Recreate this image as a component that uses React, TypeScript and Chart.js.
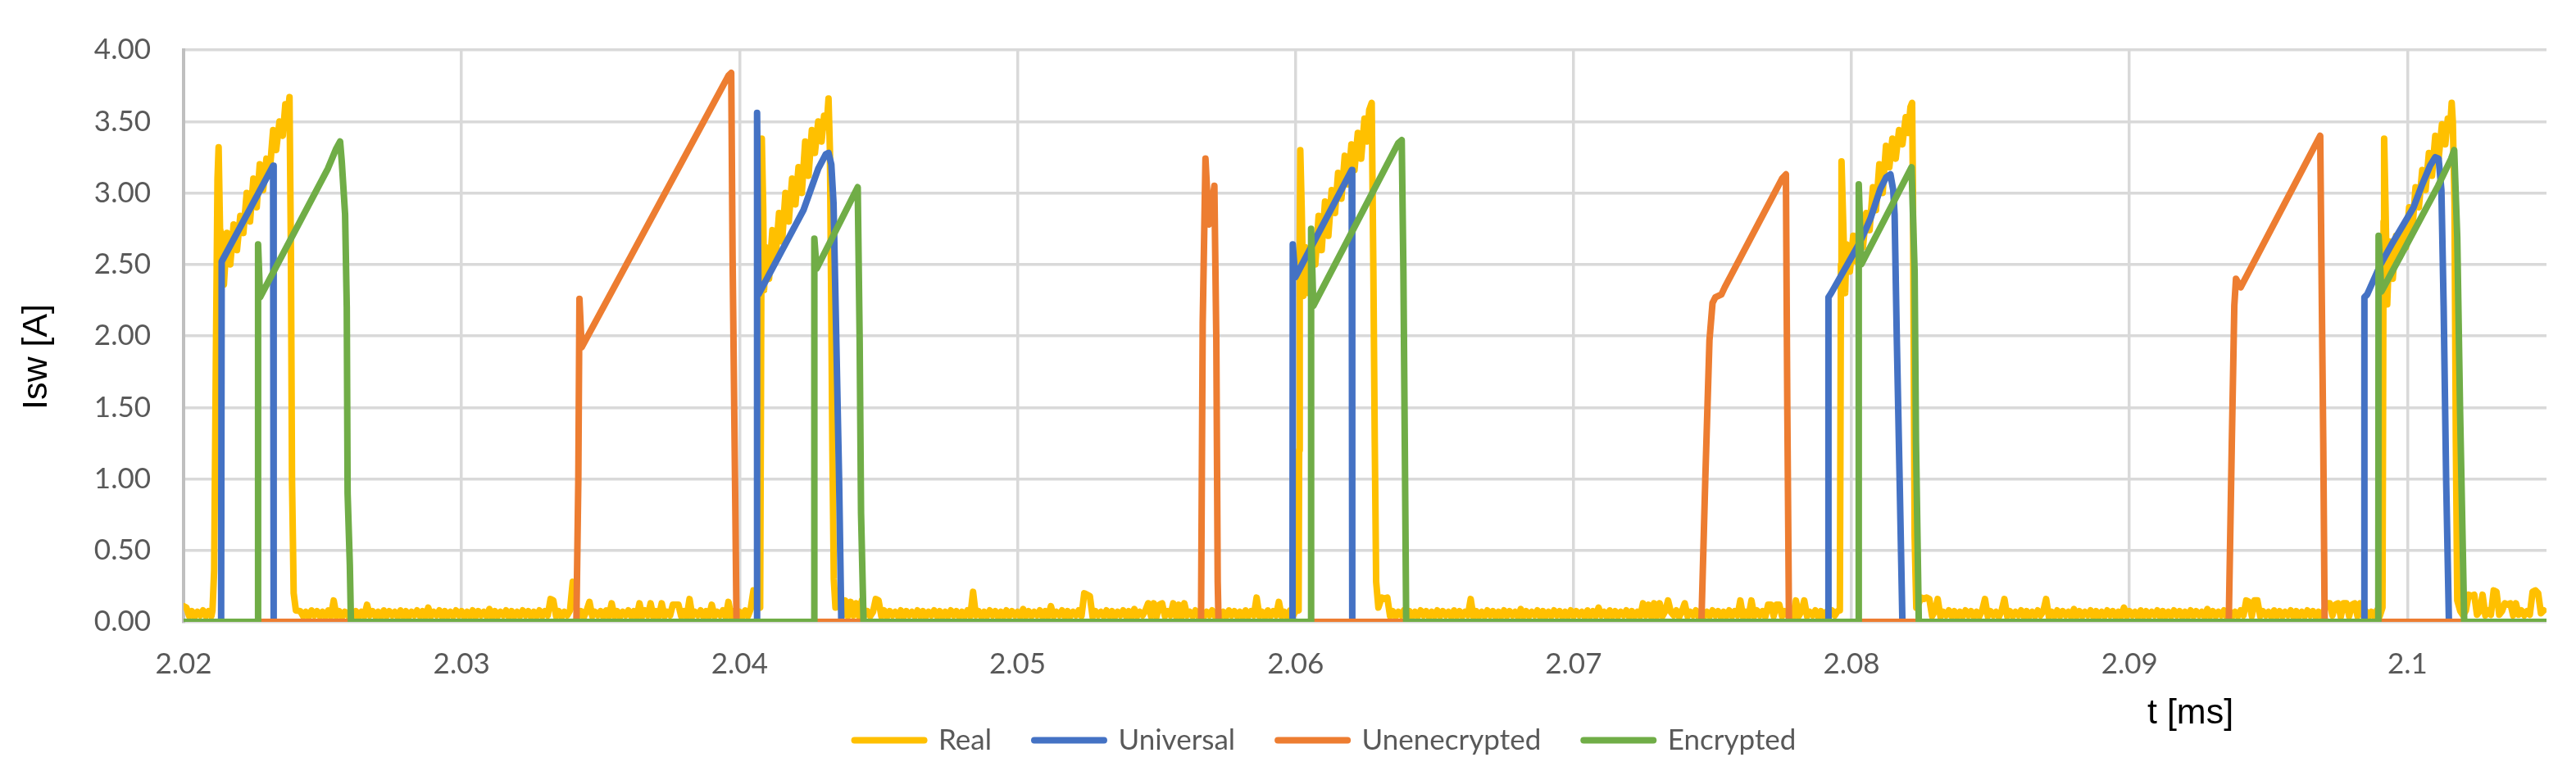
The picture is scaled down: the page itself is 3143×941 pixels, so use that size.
import React, { useEffect, useRef } from 'react';
import { Chart, registerables } from 'chart.js';

Chart.register(...registerables);

type Pt = [number, number];

// ---------- labels / ticks ----------
const SERIES_NAMES = ['Real', 'Universal', 'Unenecrypted', 'Encrypted'];
const SERIES_COLORS = ['#FFC000', '#4472C4', '#ED7D31', '#70AD47'];
const X_TICKS = [2.02, 2.03, 2.04, 2.05, 2.06, 2.07, 2.08, 2.09, 2.1];
const Y_TICKS = [0, 0.5, 1, 1.5, 2, 2.5, 3, 3.5, 4];
const X_MIN = 2.02;
const X_MAX = 2.105;
const Y_MIN = 0;
const Y_MAX = 4;
const X_TITLE = 't [ms]';
const Y_TITLE = 'Isw [A]';

// ---------- Real (measured) : baseline noise segments, sampled every 0.0001 ms ----------
const REAL_NOISE_STEP = 0.0001;
const realNoiseStarts = [2.02, 2.0242, 2.0436, 2.0631, 2.0824, 2.1019];
const realNoise0 = [0.11, 0.10, 0.04, 0.075, 0.035, 0.07, 0.045, 0.08, 0.04, 0.075, 0.04];
const realNoise1 = [
  0.075, 0.04, 0.07, 0.035, 0.08, 0.045, 0.075, 0.04, 0.07, 0.035, 0.08, 0.04, 0.15, 0.04, 0.075, 0.035, 0.07, 0.045, 0.08, 0.04,
  0.075, 0.035, 0.07, 0.04, 0.12, 0.045, 0.075, 0.04, 0.07, 0.035, 0.08, 0.04, 0.075, 0.045, 0.07, 0.035, 0.08, 0.04, 0.075, 0.035,
  0.07, 0.045, 0.08, 0.04, 0.075, 0.035, 0.10, 0.04, 0.07, 0.045, 0.08, 0.035, 0.075, 0.04, 0.07, 0.04, 0.08, 0.045, 0.075, 0.035,
  0.07, 0.04, 0.08, 0.035, 0.075, 0.045, 0.07, 0.04, 0.09, 0.035, 0.075, 0.04, 0.07, 0.045, 0.08, 0.035, 0.075, 0.04, 0.07, 0.04,
  0.08, 0.045, 0.075, 0.035, 0.07, 0.04, 0.08, 0.04, 0.075, 0.045, 0.16, 0.15, 0.04, 0.075, 0.035, 0.07, 0.045, 0.08, 0.28, 0.12,
  0.04, 0.075, 0.035, 0.08, 0.14, 0.04, 0.07, 0.045, 0.075, 0.035, 0.08, 0.04, 0.13, 0.04, 0.075, 0.035, 0.07, 0.045, 0.08, 0.04,
  0.075, 0.035, 0.13, 0.04, 0.08, 0.045, 0.13, 0.035, 0.075, 0.04, 0.13, 0.04, 0.07, 0.045, 0.12, 0.12, 0.12, 0.04, 0.075, 0.035,
  0.16, 0.04, 0.07, 0.045, 0.08, 0.035, 0.075, 0.04, 0.12, 0.04, 0.07, 0.045, 0.08, 0.035, 0.14, 0.04, 0.075, 0.045, 0.07, 0.035,
  0.08, 0.04, 0.09, 0.22, 0.20,
];
const realNoise2 = [
  0.14, 0.045, 0.15, 0.04, 0.14, 0.045, 0.13, 0.04, 0.15, 0.045, 0.075, 0.04, 0.07, 0.16, 0.15, 0.04, 0.08, 0.035, 0.075, 0.045,
  0.07, 0.04, 0.08, 0.035, 0.075, 0.045, 0.07, 0.04, 0.08, 0.04, 0.075, 0.035, 0.07, 0.045, 0.08, 0.04, 0.075, 0.035, 0.07, 0.04,
  0.08, 0.045, 0.075, 0.035, 0.07, 0.04, 0.08, 0.04, 0.21, 0.045, 0.075, 0.035, 0.07, 0.04, 0.08, 0.045, 0.075, 0.035, 0.07, 0.04,
  0.08, 0.04, 0.075, 0.045, 0.07, 0.035, 0.09, 0.04, 0.075, 0.04, 0.07, 0.045, 0.08, 0.035, 0.075, 0.04, 0.11, 0.04, 0.07, 0.045,
  0.08, 0.035, 0.075, 0.04, 0.07, 0.045, 0.08, 0.04, 0.20, 0.19, 0.18, 0.035, 0.075, 0.045, 0.07, 0.04, 0.08, 0.04, 0.075, 0.035,
  0.07, 0.045, 0.08, 0.04, 0.075, 0.035, 0.09, 0.04, 0.07, 0.045, 0.08, 0.13, 0.04, 0.13, 0.035, 0.12, 0.13, 0.04, 0.075, 0.045,
  0.13, 0.04, 0.12, 0.035, 0.13, 0.045, 0.07, 0.04, 0.08, 0.04, 0.075, 0.035, 0.07, 0.045, 0.08, 0.04, 0.075, 0.04, 0.07, 0.035,
  0.08, 0.045, 0.075, 0.04, 0.07, 0.035, 0.08, 0.04, 0.075, 0.045, 0.17, 0.04, 0.07, 0.035, 0.08, 0.04, 0.075, 0.045, 0.14, 0.04,
  0.07, 0.035, 0.08, 0.04, 0.075,
];
const realNoise3 = [
  0.17, 0.16, 0.17, 0.04, 0.075, 0.035, 0.07, 0.045, 0.08, 0.04, 0.075, 0.035, 0.07, 0.04, 0.08, 0.045, 0.075, 0.035, 0.07, 0.04,
  0.08, 0.04, 0.075, 0.045, 0.07, 0.035, 0.08, 0.04, 0.075, 0.04, 0.07, 0.045, 0.16, 0.035, 0.075, 0.04, 0.07, 0.04, 0.08, 0.045,
  0.075, 0.035, 0.07, 0.04, 0.08, 0.04, 0.075, 0.045, 0.07, 0.035, 0.09, 0.04, 0.075, 0.04, 0.07, 0.045, 0.08, 0.035, 0.075, 0.04,
  0.07, 0.04, 0.08, 0.045, 0.075, 0.035, 0.07, 0.04, 0.08, 0.04, 0.075, 0.045, 0.07, 0.035, 0.08, 0.04, 0.075, 0.04, 0.10, 0.045,
  0.07, 0.035, 0.08, 0.04, 0.075, 0.04, 0.07, 0.045, 0.08, 0.035, 0.075, 0.04, 0.07, 0.04, 0.13, 0.045, 0.12, 0.035, 0.13, 0.04,
  0.13, 0.04, 0.075, 0.15, 0.07, 0.045, 0.08, 0.035, 0.075, 0.13, 0.04, 0.07, 0.045, 0.08, 0.035, 0.075, 0.04, 0.07, 0.04, 0.08,
  0.045, 0.075, 0.035, 0.07, 0.04, 0.08, 0.04, 0.075, 0.045, 0.15, 0.035, 0.07, 0.04, 0.15, 0.04, 0.08, 0.045, 0.075, 0.035, 0.12,
  0.12, 0.04, 0.12, 0.12, 0.04, 0.075, 0.045, 0.07, 0.035, 0.15, 0.04, 0.075, 0.15, 0.04, 0.07, 0.045, 0.08, 0.035, 0.075, 0.04,
  0.07, 0.04, 0.08, 0.045, 0.075,
];
const realNoise4 = [
  0.12, 0.17, 0.16, 0.17, 0.16, 0.04, 0.075, 0.16, 0.035, 0.07, 0.045, 0.08, 0.04, 0.075, 0.035, 0.07, 0.04, 0.08, 0.045, 0.075,
  0.035, 0.07, 0.04, 0.08, 0.16, 0.04, 0.075, 0.045, 0.07, 0.035, 0.08, 0.16, 0.04, 0.075, 0.04, 0.07, 0.045, 0.08, 0.035, 0.075,
  0.04, 0.07, 0.04, 0.08, 0.045, 0.075, 0.16, 0.035, 0.07, 0.04, 0.08, 0.04, 0.075, 0.045, 0.07, 0.035, 0.09, 0.04, 0.075, 0.04,
  0.07, 0.045, 0.08, 0.035, 0.075, 0.04, 0.07, 0.04, 0.08, 0.045, 0.075, 0.035, 0.07, 0.04, 0.10, 0.04, 0.075, 0.045, 0.07, 0.035,
  0.08, 0.04, 0.075, 0.04, 0.07, 0.045, 0.08, 0.035, 0.075, 0.04, 0.07, 0.04, 0.08, 0.045, 0.075, 0.035, 0.07, 0.04, 0.08, 0.04,
  0.075, 0.045, 0.07, 0.035, 0.09, 0.04, 0.075, 0.04, 0.07, 0.045, 0.08, 0.035, 0.075, 0.04, 0.07, 0.04, 0.08, 0.045, 0.15, 0.14,
  0.04, 0.15, 0.15, 0.04, 0.075, 0.045, 0.07, 0.035, 0.08, 0.04, 0.075, 0.04, 0.07, 0.045, 0.08, 0.035, 0.075, 0.04, 0.07, 0.04,
  0.08, 0.045, 0.075, 0.035, 0.07, 0.04, 0.08, 0.13, 0.13, 0.045, 0.12, 0.13, 0.035, 0.13, 0.13, 0.04, 0.12, 0.13, 0.04, 0.13,
  0.045, 0.075, 0.035, 0.07, 0.04, 0.08, 0.04,
];
const realNoise5 = [
  0.075, 0.045, 0.08, 0.19, 0.18, 0.19, 0.05, 0.075, 0.19, 0.045, 0.08, 0.05, 0.22, 0.21, 0.05, 0.075,
  0.13, 0.12, 0.13, 0.045, 0.13, 0.05, 0.08, 0.045, 0.075, 0.05, 0.21, 0.22, 0.2, 0.06, 0.08,
];

// ---------- Real : pulses ----------
const realPulse1: Pt[] = [
  [2.02104, 0.08], [2.0211, 0.36], [2.02116, 1.8], [2.02122, 3.1], [2.02126, 3.32], [2.02131, 2.75],
  [2.02136, 2.7], [2.02145, 2.36], [2.02156, 2.72], [2.02168, 2.5], [2.0218, 2.78], [2.02192, 2.6],
  [2.02204, 2.84], [2.02215, 2.72], [2.02227, 3.0], [2.02239, 2.8], [2.02251, 3.1], [2.02263, 2.9],
  [2.02274, 3.2], [2.02286, 3.02], [2.02298, 3.24], [2.0231, 3.15], [2.02322, 3.44], [2.02333, 3.3],
  [2.02345, 3.5], [2.02357, 3.4], [2.02366, 3.62], [2.02375, 3.55], [2.02381, 3.67], [2.02386, 2.6],
  [2.0239, 1.0], [2.02396, 0.2], [2.02404, 0.08],
];
const realPulse2: Pt[] = [
  [2.04074, 0.1], [2.04077, 1.6], [2.0408, 3.38], [2.04085, 2.9], [2.04088, 2.32], [2.04094, 2.62],
  [2.04106, 2.4], [2.04118, 2.74], [2.0413, 2.55], [2.04142, 2.86], [2.04153, 2.66], [2.04165, 3.0],
  [2.04177, 2.8], [2.04189, 3.1], [2.04201, 2.92], [2.04212, 3.18], [2.04224, 3.0], [2.04236, 3.36],
  [2.04248, 3.12], [2.0426, 3.44], [2.04271, 3.28], [2.04283, 3.5], [2.04295, 3.36], [2.04304, 3.54],
  [2.04313, 3.46], [2.0432, 3.66], [2.04325, 3.3], [2.04329, 2.4], [2.04334, 1.2], [2.04339, 0.3],
  [2.04345, 0.1],
];
const realPulse3: Pt[] = [
  [2.06011, 0.08], [2.06013, 1.2], [2.06015, 2.6], [2.06017, 3.3], [2.06022, 2.9], [2.06028, 2.28],
  [2.06035, 2.62], [2.06047, 2.3], [2.06059, 2.66], [2.06071, 2.5], [2.06083, 2.84], [2.06094, 2.6],
  [2.06106, 2.94], [2.06118, 2.7], [2.0613, 3.02], [2.06142, 2.86], [2.06153, 3.14], [2.06165, 2.96],
  [2.06177, 3.26], [2.06189, 3.06], [2.06201, 3.34], [2.06212, 3.16], [2.06224, 3.42], [2.06236, 3.24],
  [2.06248, 3.52], [2.06257, 3.36], [2.06265, 3.58], [2.06274, 3.63], [2.0628, 2.45], [2.06285, 1.25],
  [2.0629, 0.28], [2.06298, 0.1],
];
const realPulse4: Pt[] = [
  [2.07958, 0.08], [2.0796, 1.2], [2.07962, 2.5], [2.07964, 3.22], [2.0797, 2.8], [2.07977, 2.3],
  [2.07982, 2.64], [2.07994, 2.45], [2.08006, 2.7], [2.08018, 2.52], [2.08029, 2.8], [2.08041, 2.62],
  [2.08053, 2.86], [2.08065, 2.74], [2.08077, 3.04], [2.08088, 2.88], [2.081, 3.2], [2.08112, 3.0],
  [2.08124, 3.33], [2.08136, 3.18], [2.08147, 3.38], [2.08159, 3.24], [2.08171, 3.44], [2.08183, 3.34],
  [2.08195, 3.53], [2.08204, 3.42], [2.08212, 3.6], [2.08218, 3.63], [2.08221, 3.0], [2.08224, 1.8],
  [2.08227, 0.6], [2.08233, 0.1],
];
const realPulse5: Pt[] = [
  [2.0991, 0.1], [2.09912, 1.4], [2.09914, 2.8], [2.09916, 3.38], [2.09921, 2.9], [2.09927, 2.22],
  [2.09935, 2.66], [2.09947, 2.4], [2.09959, 2.7], [2.09971, 2.55], [2.09982, 2.76], [2.09994, 2.62],
  [2.10006, 2.9], [2.10018, 2.76], [2.10029, 3.04], [2.10041, 2.9], [2.10053, 3.16], [2.10065, 3.02],
  [2.10077, 3.28], [2.10088, 3.12], [2.101, 3.4], [2.10112, 3.24], [2.10124, 3.48], [2.10136, 3.34],
  [2.10145, 3.52], [2.10153, 3.44], [2.10159, 3.63], [2.10163, 3.5], [2.10169, 2.93], [2.10174, 1.25],
  [2.10179, 0.15],
];

// ---------- Universal ----------
const universalData: Pt[] = [
  [2.02, 0], [2.02135, 0], [2.02137, 2.52], [2.02322, 3.19], [2.02324, 0],
  [2.04062, 0], [2.04063, 3.56], [2.04068, 2.29], [2.04142, 2.56], [2.0423, 2.88], [2.04283, 3.17],
  [2.0431, 3.27], [2.0432, 3.28], [2.0433, 3.2], [2.04338, 2.93], [2.04348, 1.97], [2.04358, 1.0], [2.04366, 0],
  [2.05989, 0], [2.0599, 2.64], [2.05999, 2.41], [2.06202, 3.16], [2.06204, 0],
  [2.07916, 0], [2.07917, 2.27], [2.07927, 2.3], [2.08026, 2.64], [2.0805, 2.74], [2.08068, 2.82],
  [2.08085, 2.92], [2.08104, 3.03], [2.08125, 3.11], [2.0814, 3.13], [2.0815, 3.02], [2.08155, 2.85],
  [2.08163, 1.97], [2.08173, 1.0], [2.08183, 0],
  [2.09844, 0], [2.09845, 2.27], [2.09855, 2.29], [2.09903, 2.5], [2.09943, 2.64], [2.10022, 2.9],
  [2.10051, 3.05], [2.10081, 3.19], [2.101, 3.25], [2.10112, 3.24], [2.10122, 3.02], [2.1013, 2.21],
  [2.10139, 1.0], [2.10149, 0], [2.105, 0],
];

// ---------- Unenecrypted ----------
const unencryptedData: Pt[] = [
  [2.02, 0],
  [2.03413, 0], [2.0342, 1.0], [2.03424, 2.26], [2.03432, 1.92], [2.0396, 3.82], [2.0397, 3.84],
  [2.03975, 2.53], [2.03985, 0.75], [2.03989, 0],
  [2.0566, 0], [2.05666, 2.09], [2.05676, 3.24], [2.05688, 2.78], [2.05708, 3.05], [2.05715, 1.97],
  [2.0572, 0.28], [2.05723, 0],
  [2.0746, 0], [2.07474, 1.0], [2.07489, 1.97], [2.075, 2.23], [2.0751, 2.27], [2.07532, 2.29],
  [2.07544, 2.34], [2.0775, 3.1], [2.07764, 3.13], [2.07769, 1.5], [2.07775, 0],
  [2.09357, 0], [2.09368, 1.25], [2.09377, 2.21], [2.09383, 2.4], [2.094, 2.34], [2.09686, 3.4],
  [2.09692, 2.21], [2.09697, 1.25], [2.09702, 0],
  [2.105, 0],
];

// ---------- Encrypted ----------
const encryptedData: Pt[] = [
  [2.02, 0],
  [2.02267, 0], [2.02268, 2.64], [2.02275, 2.27], [2.02519, 3.17], [2.02549, 3.31], [2.02563, 3.36],
  [2.02569, 3.22], [2.02581, 2.85], [2.02587, 2.2], [2.0259, 0.9], [2.02598, 0.4], [2.02602, 0],
  [2.04268, 0], [2.04269, 2.68], [2.04277, 2.47], [2.04425, 3.04], [2.04432, 1.97], [2.04437, 0.76], [2.04446, 0],
  [2.06055, 0], [2.06056, 2.75], [2.06064, 2.21], [2.0637, 3.35], [2.06382, 3.37], [2.06388, 2.45],
  [2.06393, 1.25], [2.06398, 0],
  [2.08025, 0], [2.08026, 3.06], [2.08035, 2.5], [2.08216, 3.18], [2.08227, 2.45], [2.08232, 1.25], [2.08242, 0],
  [2.09895, 0], [2.09896, 2.7], [2.09906, 2.31], [2.09992, 2.62], [2.1011, 3.05], [2.10157, 3.24],
  [2.10168, 3.3], [2.10179, 2.69], [2.10189, 1.49], [2.10204, 0],
  [2.105, 0],
];

const realNoise = [realNoise0, realNoise1, realNoise2, realNoise3, realNoise4, realNoise5];
const realPulses = [realPulse1, realPulse2, realPulse3, realPulse4, realPulse5];

function buildReal(): Pt[] {
  const out: Pt[] = [];
  realNoise.forEach((seg, s) => {
    const limit = s < realPulses.length ? realPulses[s][0][0] : X_MAX;
    seg.forEach((v, i) => {
      const t = realNoiseStarts[s] + i * REAL_NOISE_STEP;
      if (t < limit) out.push([t, v]);
    });
    if (s < realPulses.length) out.push(...realPulses[s]);
  });
  return out;
}

const TICK_FONT = { family: 'Lato', size: 35 };
const LEGEND_FONT = { family: 'Lato', size: 35 };

const axisTitlesPlugin = {
  id: 'axisTitles',
  afterLayout(chart: any) {
    // let the y tick labels use the space left of the axis box (avoid label clipping)
    const y = chart.scales.y;
    if (y) y.left = 0;
  },
  afterDraw(chart: any) {
    const ctx: CanvasRenderingContext2D = chart.ctx;
    ctx.save();
    ctx.fillStyle = '#000000';
    ctx.font = '43px "Liberation Sans", Arial, sans-serif';
    ctx.textBaseline = 'alphabetic';
    ctx.textAlign = 'left';
    ctx.fillText(X_TITLE, 2620, 883);
    ctx.translate(57, 500);
    ctx.rotate(-Math.PI / 2);
    ctx.fillText(Y_TITLE, 0, 0);
    ctx.restore();
  },
};

export default function App() {
  const ref = useRef<HTMLCanvasElement>(null);

  useEffect(() => {
    const canvas = ref.current;
    if (!canvas) return;
    const seriesData = [buildReal(), universalData, unencryptedData, encryptedData];
    const orders = [4, 3, 2, 1];
    const datasets = SERIES_NAMES.map((name, i) => ({
      label: name,
      data: seriesData[i].map(([x, y]) => ({ x, y })),
      borderColor: SERIES_COLORS[i],
      backgroundColor: SERIES_COLORS[i],
      borderWidth: 8,
      pointRadius: 0,
      pointHoverRadius: 0,
      tension: 0,
      fill: false,
      borderJoinStyle: 'round' as const,
      borderCapStyle: 'round' as const,
      order: orders[i],
    }));

    const chart = new Chart(canvas, {
      type: 'line',
      data: { datasets },
      options: {
        animation: false,
        responsive: false,
        devicePixelRatio: 1,
        events: [],
        layout: { padding: { left: 127, right: 36, top: 39, bottom: 10 } },
        scales: {
          x: {
            type: 'linear',
            min: X_MIN,
            max: X_MAX,
            afterBuildTicks: (s: any) => {
              s.ticks = X_TICKS.map((v) => ({ value: v }));
            },
            afterFit: (s: any) => {
              s.height = 75;
            },
            grid: { color: '#D9D9D9', lineWidth: 3.5, drawTicks: false },
            border: { display: false },
            ticks: {
              padding: 31,
              color: '#595959',
              font: TICK_FONT,
              maxRotation: 0,
              autoSkip: false,
              callback: (v: any) => String(Math.round(Number(v) * 100) / 100),
            },
          },
          y: {
            type: 'linear',
            min: Y_MIN,
            max: Y_MAX,
            afterBuildTicks: (s: any) => {
              s.ticks = Y_TICKS.map((v) => ({ value: v }));
            },
            afterFit: (s: any) => {
              s.width = 97;
            },
            grid: { color: '#D9D9D9', lineWidth: 3.5, drawTicks: false },
            border: { display: true, color: '#BFBFBF', width: 4 },
            ticks: {
              padding: 40,
              color: '#595959',
              font: TICK_FONT,
              callback: (v: any) => Number(v).toFixed(2),
            },
          },
        },
        plugins: {
          tooltip: { enabled: false },
          title: { display: false },
          legend: {
            position: 'bottom',
            labels: {
              usePointStyle: true,
              pointStyleWidth: 85,
              padding: 52,
              color: '#595959',
              font: LEGEND_FONT,
              sort: (a: any, b: any) => a.datasetIndex - b.datasetIndex,
              generateLabels: (c: any) => {
                const items = (Chart.defaults.plugins.legend.labels as any).generateLabels(c);
                return items.map((it: any) => ({
                  ...it,
                  pointStyle: 'line',
                  lineWidth: 8,
                  lineCap: 'round',
                  strokeStyle: SERIES_COLORS[it.datasetIndex],
                  fillStyle: SERIES_COLORS[it.datasetIndex],
                }));
              },
            },
          },
        },
      },
      plugins: [axisTitlesPlugin],
    });

    let alive = true;
    if ((document as any).fonts && (document as any).fonts.load) {
      Promise.all([
        (document as any).fonts.load('35px Lato'),
        (document as any).fonts.load('43px "Liberation Sans"'),
      ])
        .then(() => {
          if (alive) chart.update('none');
        })
        .catch(() => {});
    }

    return () => {
      alive = false;
      chart.destroy();
    };
  }, []);

  return (
    <div style={{ position: 'fixed', left: 0, top: 0, width: 3143, height: 941, background: '#ffffff' }}>
      <canvas ref={ref} width={3143} height={941} style={{ display: 'block', width: 3143, height: 941 }} />
    </div>
  );
}
